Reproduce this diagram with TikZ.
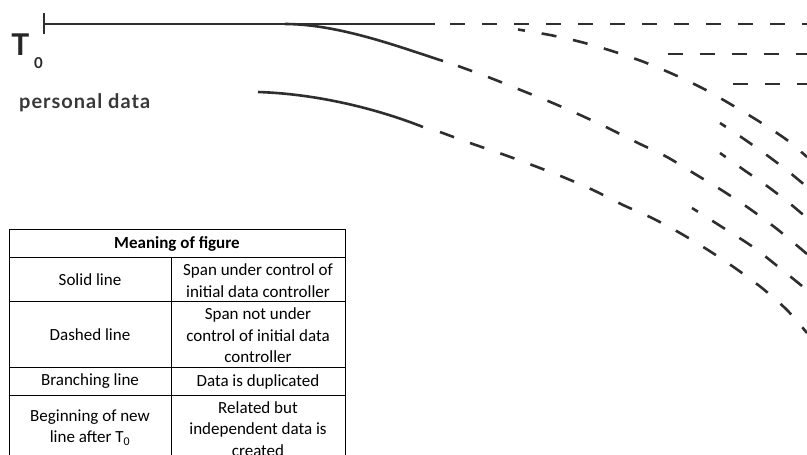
\documentclass[tikz,border=0pt]{standalone}
\usepackage{fontspec}
\setmainfont{Carlito}
\newfontfamily\gill{Lato}
\newfontfamily\gillw{Lato}[LetterSpace=5]
\begin{document}
\begin{tikzpicture}[x=1pt,y=-1pt,
  ln/.style={line width=2.6pt, draw=black!82, line cap=butt},
  dsh/.style={ln, dash pattern=on 15pt off 17pt},
  cell/.style={align=center, font=\fontsize{17}{21.5}\selectfont, inner sep=0pt},
  tbl/.style={line width=0.9pt, draw=black}]
\useasboundingbox (0,0) rectangle (807,455);
\clip (0,0) rectangle (807,455);

% T0 label and personal data
\node[font=\gill\bfseries\fontsize{30}{30}\selectfont, text=black!85, anchor=base, inner sep=0pt] (T) at (20.5,55) {T};
\node[font=\gill\bfseries\fontsize{15}{15}\selectfont, text=black!85, anchor=base, inner sep=0pt] (sub) at (38.5,68) {0};
\node[font=\gillw\bfseries\fontsize{20}{20}\selectfont, text=black!78, anchor=base west, inner sep=0pt] (pd) at (19,108) {personal data};

% main timeline
\coordinate (tickT) at (44,13);
\coordinate (tickB) at (44,34);
\coordinate (t0) at (44,24);
\coordinate (tsol) at (435,24);
\coordinate (tds) at (450,24);
\coordinate (tend) at (807,24);
\draw[ln] (tickT) -- (tickB);
\draw[ln] (t0) -- (tsol);
\draw[dsh] (tds) -- (tend);

% branch 2
\coordinate (b2s) at (285,24);
\coordinate (b2e) at (443,61);
\draw[ln] (b2s) .. controls (340,24) and (405,49) .. (b2e);
\draw[dsh] plot[smooth] coordinates {(458,66) (488,77) (518,89) (548,101) (578,114) (608,128) (638,143) (667,157) (695,174) (723,191) (750,209) (777,229) (807,254)};

% branch 3
\draw[dsh, dash phase=8pt] plot[smooth] coordinates {(518,29.5) (550,35) (581,42) (612,51) (644,62) (675,75) (704,89) (732,105) (760,122) (787,140) (807,157)};

% new lines
\draw[dsh, dash phase=8pt] plot[smooth] coordinates {(720,123) (744,139) (768,156) (789,172) (807,187)};
\draw[dsh, dash phase=8pt] plot[smooth] coordinates {(720,153) (744,170) (767,186) (788,202) (807,218)};
\draw[dsh, dash phase=8pt] plot[smooth] coordinates {(692,208) (722,227) (753,247) (781,269) (807,290)};

% personal data line
\coordinate (ps) at (258,92);
\coordinate (pe) at (423,127);
\draw[ln] (ps) .. controls (320,94) and (380,110) .. (pe);
\draw[dsh] plot[smooth] coordinates {(440,132) (470,143) (502,154) (532,165) (563,177) (593,190) (623,205) (652,218) (680,233) (708,250) (735,268) (762,288) (787,310) (807,333)};

% horizontal dashed lines
\coordinate (h1s) at (668,54);
\coordinate (h1e) at (807,54);
\coordinate (h2s) at (733,84);
\coordinate (h2e) at (807,84);
\draw[dsh] (h1s) -- (h1e);
\draw[dsh] (h2s) -- (h2e);

% table
\draw[tbl] (9.5,229.5) rectangle (345.5,470);
\draw[tbl] (9.5,257) -- (345.5,257);
\draw[tbl] (9.5,301) -- (345.5,301);
\draw[tbl] (9.5,367) -- (345.5,367);
\draw[tbl] (9.5,395) -- (345.5,395);
\draw[tbl] (171,257) -- (171,470);

\node[cell, font=\bfseries\fontsize{17}{21.5}\selectfont] (hdr) at (177,244) {Meaning of figure};
\node[cell] (r1l) at (90,280) {Solid line};
\node[cell] (r1r) at (258,280.5) {Span under control of\\initial data controller};
\node[cell] (r2l) at (90,335) {Dashed line};
\node[cell] (r2r) at (258,335.5) {Span not under\\control of initial data\\controller};
\node[cell] (r3l) at (90,381.5) {Branching line};
\node[cell] (r3r) at (258,381.5) {Data is duplicated};
\node[cell] (r4l) at (90,427.5) {Beginning of new\\line after T\textsubscript{0}};
\node[cell] (r4r) at (258,429) {Related but\\independent data is\\created};
\end{tikzpicture}
\end{document}
